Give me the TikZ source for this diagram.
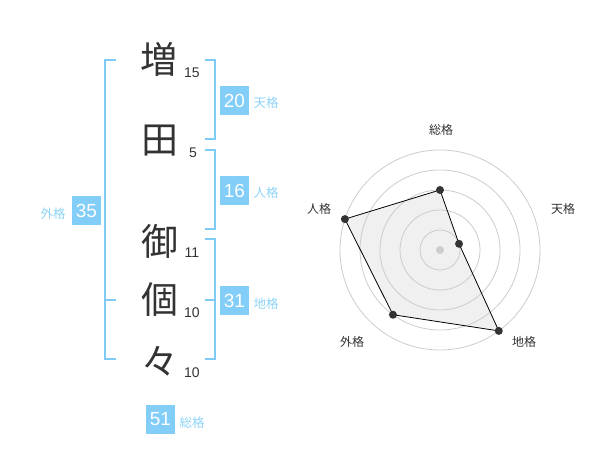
\documentclass[tikz,border=0pt]{standalone}
\usepackage{fontspec}
\setmainfont{Liberation Sans}
\newfontfamily\jp{Noto Sans CJK JP}
\definecolor{boxblue}{HTML}{82CEF8}
\definecolor{lblblue}{HTML}{8ED3F7}
\definecolor{brblue}{HTML}{7ECCF6}
\definecolor{ink}{HTML}{333333}
\definecolor{ring}{HTML}{CCCCCC}
\definecolor{polyfill}{HTML}{F0F0F0}
\begin{document}
\begin{tikzpicture}[x=1pt,y=-1pt,
  kanji/.style={font=\jp\fontsize{37}{37}\selectfont,text=ink,inner sep=0},
  stroke/.style={font=\fontsize{14}{14}\selectfont,text=ink,inner sep=0},
  valbox/.style={fill=boxblue,text=white,minimum width=29pt,minimum height=29pt,inner sep=0,font=\fontsize{19}{19}\selectfont},
  vallbl/.style={text=lblblue,inner sep=0,font=\jp\fontsize{12.5}{12.5}\selectfont},
  bracket/.style={draw=brblue,line width=2pt},
  radlbl/.style={text=ink,inner sep=0,font=\jp\fontsize{12}{12}\selectfont},
  ringline/.style={draw=ring,line width=0.8pt},
  dot/.style={circle,fill=ink,inner sep=0,minimum size=8pt}]
\useasboundingbox (0,0) rectangle (600,470);
% characters
\node[kanji] (c1) at (159,59) {増};
\node[kanji] (c2) at (160,141) {田};
\node[kanji] (c3) at (160,241) {御};
\node[kanji] (c4) at (160,300) {個};
\node[kanji] (c5) at (160,361) {々};
% stroke counts
\node[stroke] (s1) at (192,73) {15};
\node[stroke] (s2) at (193,153) {5};
\node[stroke] (s3) at (192,253) {11};
\node[stroke] (s4) at (192,313) {10};
\node[stroke] (s5) at (192,373) {10};
% brackets
\draw[bracket] (116,60) -- (105,60) -- (105,359) -- (116,359);
\draw[bracket] (105,300) -- (116,300);
\draw[bracket] (205,60) -- (215,60) -- (215,139) -- (205,139);
\draw[bracket] (205,150) -- (215,150) -- (215,229) -- (205,229);
\draw[bracket] (205,239) -- (215,239) -- (215,359) -- (205,359);
\draw[bracket] (205,300) -- (215,300);
% value boxes
\node[valbox] (ten) at (234.5,100.5) {20};
\node[vallbl] (tenl) at (266,103) {天格};
\node[valbox] (jin) at (234.5,190.5) {16};
\node[vallbl] (jinl) at (266,193) {人格};
\node[valbox] (chi) at (234.5,300.5) {31};
\node[vallbl] (chil) at (266,304) {地格};
\node[valbox] (gai) at (86.5,210.5) {35};
\node[vallbl] (gail) at (53,214) {外格};
\node[valbox] (sou) at (160.5,419.5) {51};
\node[vallbl] (soul) at (192,423) {総格};
% radar chart
\begin{scope}[shift={(440,250)}]
  \coordinate (pS) at (-90:60);
  \coordinate (pT) at (-18:20);
  \coordinate (pC) at (54:100);
  \coordinate (pG) at (126:80);
  \coordinate (pJ) at (198:100);
  \fill[polyfill] (pS) -- (pT) -- (pC) -- (pG) -- (pJ) -- cycle;
  \foreach \r in {20,40,60,80,100} \draw[ringline] (0,0) circle[radius=\r pt];
  \fill[ring] (0,0) circle[radius=4pt];
  \draw[black,line width=0.8pt] (pS) -- (pT) -- (pC) -- (pG) -- (pJ) -- cycle;
  \foreach \p in {pS,pT,pC,pG,pJ} \node[dot] at (\p) {};
\end{scope}
\node[radlbl] (rS) at (441,130) {総格};
\node[radlbl] (rT) at (563,209) {天格};
\node[radlbl] (rC) at (524,342) {地格};
\node[radlbl] (rG) at (352,342) {外格};
\node[radlbl] (rJ) at (319,209) {人格};
\end{tikzpicture}
\end{document}
